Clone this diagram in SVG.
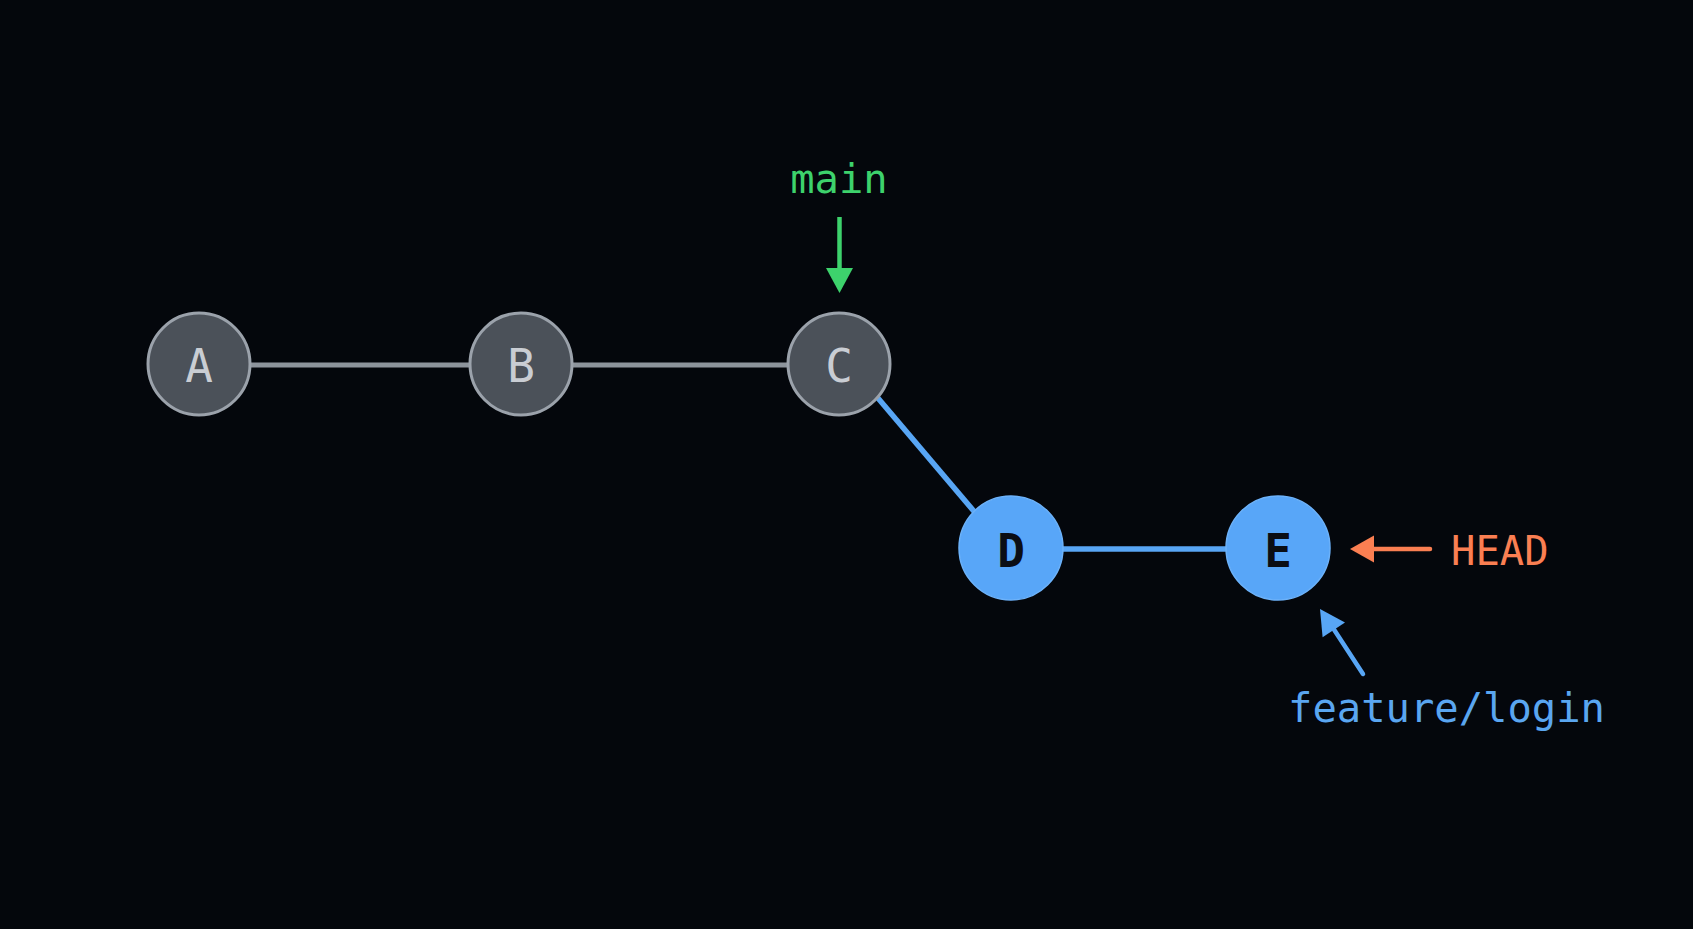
<svg xmlns="http://www.w3.org/2000/svg" width="1693" height="929" viewBox="0 0 1693 929">
<style>
.bg{fill:#04070c}
.gl{stroke:#8d949c;stroke-width:5;fill:none}
.bl{stroke:#58a6f5;stroke-width:5.5;fill:none}
.gn{fill:#4b5159;stroke:#9ba2ab;stroke-width:3}
.bn{fill:#58a6f8;stroke:#6cb2fa;stroke-width:1.5}
.gt{font-family:"DejaVu Sans Mono","Liberation Mono",monospace;font-size:46px;fill:#c9cdd3;text-anchor:middle}
.bt{font-family:"DejaVu Sans Mono","Liberation Mono",monospace;font-size:46px;font-weight:bold;fill:#0b0e14;text-anchor:middle}
.lab{font-family:"DejaVu Sans Mono","Liberation Mono",monospace;font-size:40.5px}
</style>
<rect class="bg" x="0" y="0" width="1693" height="929"/>
<g id="connectors">
<line class="gl" x1="199" y1="365" x2="521" y2="365"/>
<line class="gl" x1="521" y1="365" x2="839" y2="365"/>
<line class="bl" x1="855" y1="371" x2="1000" y2="542"/>
<line class="bl" x1="1011" y1="549" x2="1278" y2="549"/>
<g id="arrow-main"><line x1="839.5" y1="217" x2="839.5" y2="270" stroke="#3dd26c" stroke-width="4.5"/><polygon points="826,268 853,268 839.5,293" fill="#3dd26c"/></g>
<g id="arrow-head"><line x1="1430" y1="549" x2="1371" y2="549" stroke="#fa7f52" stroke-width="4.5" stroke-linecap="round"/><polygon points="1350,549 1374,535.5 1374,562.5" fill="#fa7f52"/></g>
<g id="arrow-feature"><line x1="1363" y1="674" x2="1333" y2="628" stroke="#58a6f5" stroke-width="4.5" stroke-linecap="round"/><polygon points="1320,609 1345,622.4 1322.6,637.2" fill="#58a6f5"/></g>
</g>
<g id="node-A"><circle class="gn" cx="199" cy="364" r="51"/><text class="gt" x="199" y="382">A</text></g>
<g id="node-B"><circle class="gn" cx="521" cy="364" r="51"/><text class="gt" x="521" y="382">B</text></g>
<g id="node-C"><circle class="gn" cx="839" cy="364" r="51"/><text class="gt" x="839" y="382">C</text></g>
<g id="node-D"><circle class="bn" cx="1011" cy="548" r="52"/><text class="bt" x="1011" y="567">D</text></g>
<g id="node-E"><circle class="bn" cx="1278" cy="548" r="52"/><text class="bt" x="1278" y="567">E</text></g>
<g id="label-main"><text class="lab" x="839" y="193" fill="#3dd26c" text-anchor="middle">main</text></g>
<g id="label-head"><text class="lab" x="1451" y="565" fill="#fa7f52">HEAD</text></g>
<g id="label-feature"><text class="lab" x="1288" y="722" fill="#5aa6f0">feature/login</text></g>
</svg>
